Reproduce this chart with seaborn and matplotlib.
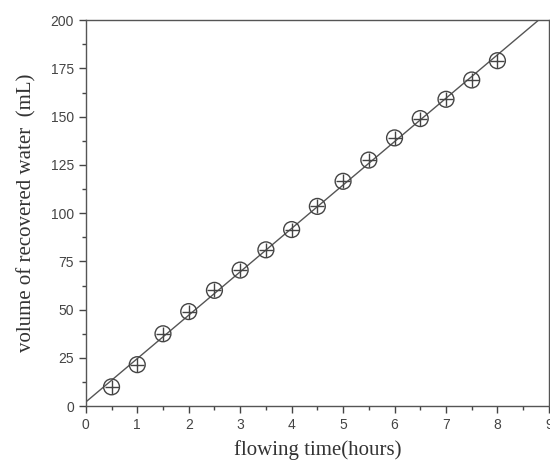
import numpy as np
import matplotlib
matplotlib.use("Agg")
import matplotlib.pyplot as plt
import seaborn as sns
from matplotlib.ticker import MultipleLocator

# ─── DATA ───────────────────────────────────────────────────────
time_h = [0.5, 1.0, 1.5, 2.0, 2.5, 3.0, 3.5, 4.0,
          4.5, 5.0, 5.5, 6.0, 6.5, 7.0, 7.5, 8.0]
volume_ml = [10, 21.5, 37.5, 49, 60, 70.5, 81, 91.5,
             103.5, 116.5, 127.5, 139, 149, 159, 169, 179]
x_ticks = list(range(0, 10))
y_ticks = [0, 25, 50, 75, 100, 125, 150, 175, 200]
# ────────────────────────────────────────────────────────────────

sns.set_style("ticks")
plt.rcParams["font.family"] = ["Liberation Sans", "DejaVu Sans"]

INK = "#444444"
fig = plt.figure(figsize=(5.5, 4.69), dpi=100)
ax = fig.add_axes([0.156, 0.134, 0.842, 0.823])
ax.set_xlim(0, 9)
ax.set_ylim(0, 200)

# linear fit line across the full axis range
sns.regplot(x=time_h, y=volume_ml, ci=None, truncate=False, ax=ax,
            scatter=False, line_kws={"color": "#555555", "lw": 1.0})

# circle-with-cross markers
sns.scatterplot(x=time_h, y=volume_ml, ax=ax, marker="o", s=130,
                facecolor="none", edgecolor=INK, linewidth=1.0, zorder=3)
sns.scatterplot(x=time_h, y=volume_ml, ax=ax, marker="+", s=110,
                color=INK, linewidth=1.0, zorder=3)

ax.set_xticks(x_ticks)
ax.set_yticks(y_ticks)
ax.xaxis.set_minor_locator(MultipleLocator(0.5))
ax.yaxis.set_minor_locator(MultipleLocator(12.5))
ax.tick_params(which="major", length=5, width=1, colors=INK, labelsize=10)
ax.tick_params(which="minor", length=3, width=1, colors=INK)

for side in ["top", "right", "left", "bottom"]:
    ax.spines[side].set_visible(True)
    ax.spines[side].set_color("#555555")
    ax.spines[side].set_linewidth(1.0)

ax.set_xlabel("flowing time(hours)", family=["Liberation Serif"],
              fontsize=15, color="#333333", labelpad=6)
ax.set_ylabel("volume of recovered water  (mL)", family=["Liberation Serif"],
              fontsize=15, color="#333333", labelpad=10)

fig.savefig("out.png", dpi=100)
